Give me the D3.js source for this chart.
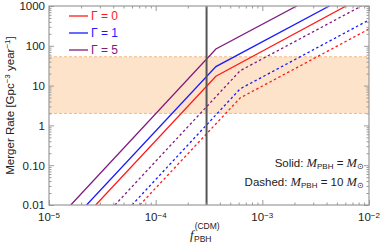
<!DOCTYPE html>
<html>
<head>
<meta charset="utf-8">
<script src="https://cdn.jsdelivr.net/npm/d3@7"></script>
<style>
  body { margin: 0; background: #fff; }
  svg { display: block; font-family: "Liberation Sans", Arial, sans-serif; }
</style>
</head>
<body>
<div id="chart"></div>
<script>
// Data: [f_PBH, merger rate]
const gammas = [0, 1, 5];
const seriesColors = ["#ff1a1a", "#1a1aff", "#801a80"];
const solidLines = [
  [[2.74e-5, 0.01], [3.67e-4, 17.2], [6.1e-3, 1000]],
  [[2.25e-5, 0.01], [3.67e-4, 30], [4.25e-3, 1000]],
  [[1.6e-5, 0.01], [3.67e-4, 83], [2.1e-3, 1000]]
];
const dashedLines = [
  [[7.1e-5, 0.01], [6.2e-4, 4.9], [1e-2, 264]],
  [[6.0e-5, 0.01], [6.2e-4, 8.3], [1e-2, 445]],
  [[4.15e-5, 0.01], [6.2e-4, 23.7], [8.5e-3, 1000]]
];
const bandRange = [2, 53];
const fMarker = 3e-4;
const xDomain = [1e-5, 1e-2];
const yDomain = [0.01, 1000];
const xTickExps = [-5, -4, -3, -2];
const yTickVals = [0.01, 0.1, 1, 10, 100, 1000];
const yTickLabels = ["0.01", "0.10", "1", "10", "100", "1000"];

const W = 382, H = 244;
const m = { left: 49, right: 13, top: 6, bottom: 39 };
const iw = W - m.left - m.right, ih = H - m.top - m.bottom;

const svg = d3.select("#chart").append("svg").attr("width", W).attr("height", H);
const g = svg.append("g").attr("transform", `translate(${m.left},${m.top})`);

const x = d3.scaleLog().domain(xDomain).range([0, iw]);
const y = d3.scaleLog().domain(yDomain).range([ih, 0]);

g.append("clipPath").attr("id", "clip")
  .append("rect").attr("width", iw).attr("height", ih);

const plot = g.append("g").attr("clip-path", "url(#clip)");

// shaded band
plot.append("rect")
  .attr("x", 0).attr("width", iw)
  .attr("y", y(bandRange[1])).attr("height", y(bandRange[0]) - y(bandRange[1]))
  .attr("fill", "#fde3c9");
bandRange.forEach(v => {
  plot.append("line")
    .attr("x1", 0).attr("x2", iw).attr("y1", y(v)).attr("y2", y(v))
    .attr("stroke", "#f7b981").attr("stroke-width", 1)
    .attr("stroke-dasharray", "3,2");
});

const line = d3.line().x(d => x(d[0])).y(d => y(d[1]));

dashedLines.forEach((s, i) => {
  plot.append("path").datum(s)
    .attr("fill", "none").attr("stroke", seriesColors[i])
    .attr("stroke-width", 1.3).attr("stroke-dasharray", "2.5,2.5")
    .attr("d", line);
});
solidLines.forEach((s, i) => {
  plot.append("path").datum(s)
    .attr("fill", "none").attr("stroke", seriesColors[i])
    .attr("stroke-width", 1.3)
    .attr("d", line);
});

// vertical marker
plot.append("line")
  .attr("x1", x(fMarker)).attr("x2", x(fMarker))
  .attr("y1", 0).attr("y2", ih)
  .attr("stroke", "#555").attr("stroke-width", 2);

// frame with inward ticks
const frameColor = "#9a9a9a";
function minorTicks(domain) {
  const out = [];
  const lo = Math.round(Math.log10(domain[0])), hi = Math.round(Math.log10(domain[1]));
  for (let e = lo; e < hi; e++) for (let k = 2; k <= 9; k++) out.push(k * Math.pow(10, e));
  return out;
}
const xMajor = xTickExps.map(e => Math.pow(10, e));

function drawAxis(axisFn, scale, majors, minors, transform) {
  const ax = g.append("g").attr("transform", transform);
  ax.call(axisFn(scale).tickValues(minors).tickSize(-2.5).tickFormat(""));
  ax.call(a => a.select(".domain").remove());
  const ax2 = g.append("g").attr("transform", transform);
  ax2.call(axisFn(scale).tickValues(majors).tickSize(-5).tickFormat(""));
  ax2.call(a => a.select(".domain").remove());
  g.selectAll(".tick line").attr("stroke", frameColor);
}
drawAxis(d3.axisBottom, x, xMajor, minorTicks(xDomain), `translate(0,${ih})`);
drawAxis(d3.axisTop, x, xMajor, minorTicks(xDomain), `translate(0,0)`);
drawAxis(d3.axisLeft, y, yTickVals, minorTicks(yDomain), `translate(0,0)`);
drawAxis(d3.axisRight, y, yTickVals, minorTicks(yDomain), `translate(${iw},0)`);

g.append("rect").attr("width", iw).attr("height", ih)
  .attr("fill", "none").attr("stroke", frameColor).attr("stroke-width", 1.2);

// tick labels
yTickVals.forEach((v, i) => {
  g.append("text").attr("x", -4).attr("y", y(v)).attr("dy", "0.38em")
    .attr("text-anchor", "end").attr("font-size", 11.5).attr("fill", "#222")
    .text(yTickLabels[i]);
});
xTickExps.forEach(e => {
  const t = g.append("text").attr("x", x(Math.pow(10, e))).attr("y", ih + 16)
    .attr("text-anchor", "middle").attr("font-size", 11.5).attr("fill", "#222");
  t.append("tspan").text("10");
  t.append("tspan").attr("font-size", 8).attr("dy", -3.5).text("\u2212" + Math.abs(e));
});

// axis titles
const yt = svg.append("text")
  .attr("transform", `translate(14,${m.top + ih / 2}) rotate(-90)`)
  .attr("text-anchor", "middle").attr("font-size", 11.5).attr("fill", "#222");
yt.append("tspan").text("Merger Rate [Gpc");
yt.append("tspan").attr("font-size", 8).attr("dy", -4).text("\u22123");
yt.append("tspan").attr("dy", 4).text(" year");
yt.append("tspan").attr("font-size", 8).attr("dy", -4).text("\u22121");
yt.append("tspan").attr("dy", 4).text("]");

const xt = svg.append("text").attr("x", 190).attr("y", 239).attr("font-size", 12).attr("fill", "#222");
xt.append("tspan").attr("font-style", "italic").attr("font-family", "'Liberation Serif', serif").attr("font-size", 13).text("f");
xt.append("tspan").attr("font-size", 8.5).attr("dx", 1).attr("dy", -10).text("(CDM)");
svg.append("text").attr("x", 194).attr("y", 242).attr("font-size", 8.5).attr("fill", "#222").text("PBH");

// legend
gammas.forEach((gm, i) => {
  const ly = 16 + i * 17;
  svg.append("line").attr("x1", 69).attr("x2", 88).attr("y1", ly).attr("y2", ly)
    .attr("stroke", seriesColors[i]).attr("stroke-width", 1.3);
  svg.append("text").attr("x", 91).attr("y", ly).attr("dy", "0.35em")
    .attr("font-size", 12).attr("fill", seriesColors[i])
    .text(`\u0393 = ${gm}`);
});

// annotation
function massLabel(yPos, prefix, factor) {
  const t = svg.append("text").attr("x", 364).attr("y", yPos).attr("text-anchor", "end")
    .attr("font-size", 11.5).attr("fill", "#222");
  t.append("tspan").text(prefix + " ");
  t.append("tspan").attr("font-style", "italic").attr("font-family", "'Liberation Serif', serif").attr("font-size", 12.5).text("M");
  t.append("tspan").attr("font-size", 8).attr("dy", 2).text("PBH");
  t.append("tspan").attr("dy", -2).text(" = " + factor);
  t.append("tspan").attr("font-style", "italic").attr("font-family", "'Liberation Serif', serif").attr("font-size", 12.5).text("M");
  t.append("tspan").attr("font-size", 8).attr("dy", 2).text("\u2299");
}
massLabel(167, "Solid:", "");
massLabel(186, "Dashed:", "10 ");
</script>
</body>
</html>
